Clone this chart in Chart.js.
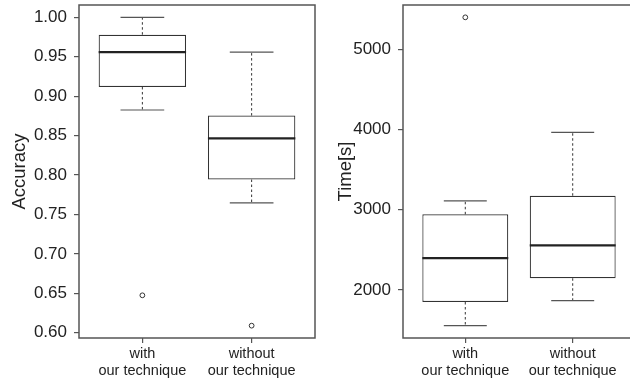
<!DOCTYPE html>
<html>
<head>
<meta charset="utf-8">
<script src="https://cdn.jsdelivr.net/npm/chart.js@4/dist/chart.umd.min.js"></script>
<style>
  html, body { margin: 0; padding: 0; background: #fff; }
  body { width: 630px; height: 381px; overflow: hidden; position: relative; }
  .panel { position: absolute; top: 0; width: 320px; height: 381px; }
  #leftPanel { left: 0; }
  #rightPanel { left: 320px; }
</style>
</head>
<body>
<div class="panel" id="leftPanel"><canvas id="accChart" width="320" height="381"></canvas></div>
<div class="panel" id="rightPanel"><canvas id="timeChart" width="320" height="381"></canvas></div>
<script>
// Groups on the x axis (two-line labels)
const groupLabels = [['with', 'our technique'], ['without', 'our technique']];

// Accuracy: five-number summaries and outliers per group
const accWhiskerLow  = [0.8825, 0.7647];
const accQ1          = [0.9117, 0.7943];
const accMedian      = [0.9560, 0.8466];
const accQ3          = [0.9780, 0.8754];
const accWhiskerHigh = [1.0000, 0.9560];
const accOutliers    = [[0.6475], [0.6090]];
const accTicks       = [0.60, 0.65, 0.70, 0.75, 0.80, 0.85, 0.90, 0.95, 1.00];

// Time in seconds: five-number summaries and outliers per group
const timeWhiskerLow  = [1555, 1867];
const timeQ1          = [1850, 2146];
const timeMedian      = [2398, 2556];
const timeQ3          = [2943, 3175];
const timeWhiskerHigh = [3112, 3966];
const timeOutliers    = [[5399], []];
const timeTicks       = [2000, 3000, 4000, 5000];

Chart.defaults.font.family = '"Liberation Sans", Arial, Helvetica, sans-serif';
Chart.defaults.color = '#222';

const INK = '#333';
const FRAME = '#555';

// Whiskers, caps, medians and the plot frame, drawn on top of the boxes
const boxExtras = {
  id: 'boxExtras',
  afterDatasetsDraw(chart, args, opts) {
    const { ctx, chartArea } = chart;
    const xs = chart.scales.x, ys = chart.scales.y;
    ctx.save();
    for (let i = 0; i < opts.median.length; i++) {
      const c = i + 1;
      const cx = xs.getPixelForValue(c);
      const capL = xs.getPixelForValue(c - 0.2), capR = xs.getPixelForValue(c + 0.2);
      const boxL = xs.getPixelForValue(c - 0.4), boxR = xs.getPixelForValue(c + 0.4);
      // dashed whiskers
      ctx.strokeStyle = INK;
      ctx.lineWidth = 1;
      ctx.setLineDash([2.5, 2.5]);
      ctx.beginPath();
      ctx.moveTo(cx, ys.getPixelForValue(opts.q3[i]));
      ctx.lineTo(cx, ys.getPixelForValue(opts.high[i]));
      ctx.moveTo(cx, ys.getPixelForValue(opts.q1[i]));
      ctx.lineTo(cx, ys.getPixelForValue(opts.low[i]));
      ctx.stroke();
      // caps
      ctx.setLineDash([]);
      ctx.lineWidth = 1.2;
      ctx.strokeStyle = '#555';
      ctx.beginPath();
      [opts.high[i], opts.low[i]].forEach(v => {
        const y = ys.getPixelForValue(v);
        ctx.moveTo(capL, y); ctx.lineTo(capR, y);
      });
      ctx.stroke();
      // median
      ctx.strokeStyle = '#222';
      ctx.lineWidth = 2.2;
      ctx.beginPath();
      const my = ys.getPixelForValue(opts.median[i]);
      ctx.moveTo(boxL, my); ctx.lineTo(boxR, my);
      ctx.stroke();
    }
    // frame around the plotting region
    ctx.strokeStyle = FRAME;
    ctx.lineWidth = 1.5;
    ctx.strokeRect(chartArea.left, chartArea.top, chartArea.right - chartArea.left, chartArea.bottom - chartArea.top);
    ctx.restore();
  }
};

function paddedRange(values) {
  const lo = Math.min(...values), hi = Math.max(...values);
  const pad = (hi - lo) * 0.04;
  return [lo - pad, hi + pad];
}

function makeBoxChart(canvasId, s, cfg) {
  const n = groupLabels.length;
  const allVals = [].concat(s.low, s.high, ...s.outliers);
  const [ymin, ymax] = paddedRange(allVals);
  const xpad = n * 0.04;
  const outlierPts = [];
  s.outliers.forEach((arr, i) => arr.forEach(v => outlierPts.push({ x: i + 1, y: v })));

  return new Chart(document.getElementById(canvasId), {
    type: 'bar',
    data: {
      datasets: [
        {
          type: 'bar',
          data: s.q1.map((q, i) => ({ x: i + 1, y: [q, s.q3[i]] })),
          backgroundColor: '#fff',
          borderColor: INK,
          borderWidth: 1.2,
          borderSkipped: false,
          barPercentage: 0.8,
          categoryPercentage: 1.0
        },
        {
          type: 'scatter',
          data: outlierPts,
          pointStyle: 'circle',
          pointRadius: 2.4,
          pointBorderWidth: 1,
          pointBorderColor: INK,
          pointBackgroundColor: '#fff'
        }
      ]
    },
    options: {
      responsive: false,
      animation: false,
      devicePixelRatio: 1,
      layout: { padding: { top: 5, right: cfg.padRight, bottom: 0, left: 0 } },
      plugins: {
        legend: { display: false },
        tooltip: { enabled: false },
        boxExtras: { low: s.low, q1: s.q1, median: s.median, q3: s.q3, high: s.high }
      },
      scales: {
        x: {
          type: 'linear',
          min: 0.5 - xpad,
          max: n + 0.5 + xpad,
          offset: false,
          border: { display: false },
          grid: { offset: false, drawOnChartArea: false, drawTicks: true, tickLength: 5, color: FRAME, lineWidth: 1.2 },
          afterBuildTicks: sc => { sc.ticks = groupLabels.map((_, i) => ({ value: i + 1 })); },
          afterFit: sc => { sc.height = 43; sc.paddingLeft = 0; sc.paddingRight = 0; },
          ticks: {
            autoSkip: false,
            maxRotation: 0,
            padding: 2,
            font: { size: 14.5 },
            color: '#222',
            callback: v => groupLabels[v - 1]
          }
        },
        y: {
          type: 'linear',
          min: ymin,
          max: ymax,
          border: { display: false },
          grid: { drawOnChartArea: false, drawTicks: true, tickLength: 5, color: FRAME, lineWidth: 1.2 },
          afterBuildTicks: sc => { sc.ticks = s.ticks.map(v => ({ value: v })); },
          afterFit: sc => { sc.width = cfg.axisWidth; sc.paddingTop = 0; sc.paddingBottom = 0; },
          title: {
            display: true,
            text: cfg.title,
            font: { size: 18.5 },
            color: '#222',
            padding: cfg.titlePad
          },
          ticks: {
            padding: 7,
            font: { size: 17 },
            color: '#222',
            callback: cfg.fmt
          }
        }
      }
    },
    plugins: [boxExtras]
  });
}

makeBoxChart('accChart', {
  low: accWhiskerLow, q1: accQ1, median: accMedian, q3: accQ3, high: accWhiskerHigh,
  outliers: accOutliers, ticks: accTicks
}, { title: 'Accuracy', axisWidth: 79, padRight: 5, titlePad: { top: 9, bottom: 0 }, fmt: v => Number(v).toFixed(2) });

makeBoxChart('timeChart', {
  low: timeWhiskerLow, q1: timeQ1, median: timeMedian, q3: timeQ3, high: timeWhiskerHigh,
  outliers: timeOutliers, ticks: timeTicks
}, { title: 'Time[s]', axisWidth: 83, padRight: 1, titlePad: { top: 15, bottom: 0 }, fmt: v => String(v) });
</script>
</body>
</html>
